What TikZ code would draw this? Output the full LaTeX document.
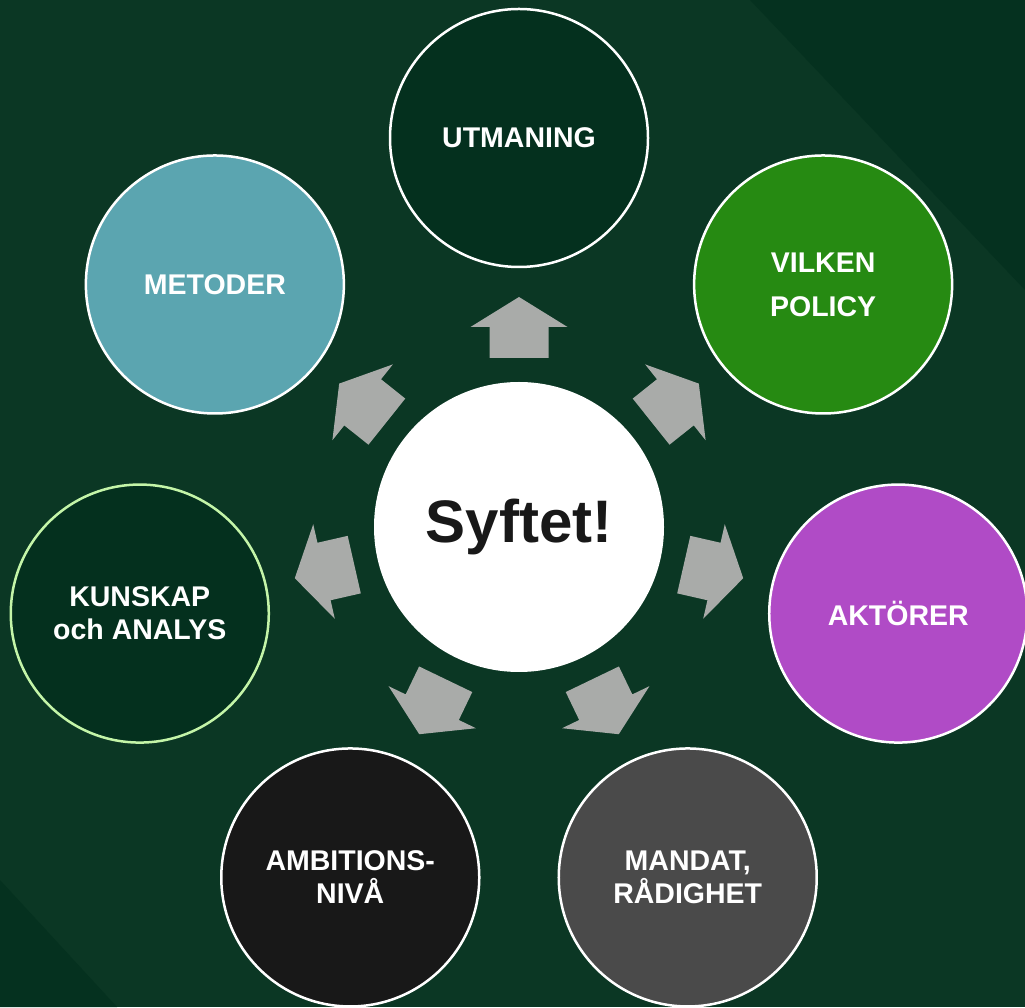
\documentclass[tikz,border=0pt]{standalone}
\usepackage{fontspec}
\setmainfont{Liberation Sans}
\usetikzlibrary{calc}
\definecolor{bggreen}{HTML}{0B3724}
\definecolor{bgdark}{HTML}{05311F}
\definecolor{deepgreen}{HTML}{04301E}
\definecolor{leafgreen}{HTML}{268A12}
\definecolor{violet}{HTML}{B04BC6}
\definecolor{slate}{HTML}{4A4A4A}
\definecolor{coal}{HTML}{181818}
\definecolor{teal}{HTML}{5BA5B0}
\definecolor{paleline}{HTML}{C4F5A8}
\definecolor{arrowgray}{HTML}{A9ABA9}
\tikzset{
  goal/.style={circle, draw=white, line width=2.5pt, minimum size=258pt,
    inner sep=0pt, align=center, text=white,
    font=\fontsize{28.5}{33}\selectfont\bfseries},
  core/.style={circle, fill=white, minimum size=290pt, inner sep=0pt,
    text=coal, font=\fontsize{60}{62}\selectfont\bfseries}
}

\begin{document}
\begin{tikzpicture}[x=1pt, y=1pt]
		\useasboundingbox (0, 0) rectangle (1025, 1007);
		\fill[bggreen] (0, 0) rectangle (1025, 1007);
		\fill[bgdark] (750, 1007) -- (1025, 1007) -- (1025, 717) -- cycle;
		\fill[bgdark] (0, 127) -- (0, 0) -- (117, 0) -- cycle;
		\coordinate (c) at (519, 480);
		% block arrows
		\foreach \a in {90, 38.57, -12.86, -64.29, -115.71, -167.14, 141.43} {
			\begin{scope}[shift={(c)}, rotate=\a]
				\fill[arrowgray] (169, -29.5) -- (200, -29.5) -- (200, -48.5) -- (230, 0)
					-- (200, 48.5) -- (200, 29.5) -- (169, 29.5) -- cycle;
			\end{scope}
		}
		\node[core] (syftet) at (c) {Syftet!};
		\node[goal, fill=deepgreen] (utmaning) at ($(c)+(90:389)$) {UTMANING};
		\node[goal, fill=leafgreen, font=\fontsize{28.5}{44}\selectfont\bfseries] (policy) at ($(c)+(38.57:389)$) {VILKEN\\POLICY};
		\node[goal, fill=violet] (aktorer) at ($(c)+(-12.86:389)$) {AKTÖRER};
		\node[goal, fill=slate] (mandat) at ($(c)+(-64.29:389)$) {MANDAT,\\RÅDIGHET};
		\node[goal, fill=coal] (ambition) at ($(c)+(-115.71:389)$) {AMBITIONS-\\NIVÅ};
		\node[goal, fill=deepgreen, draw=paleline] (kunskap) at ($(c)+(-167.14:389)$) {KUNSKAP\\och ANALYS};
		\node[goal, fill=teal] (metoder) at ($(c)+(141.43:389)$) {METODER};
	\end{tikzpicture}
\end{document}
